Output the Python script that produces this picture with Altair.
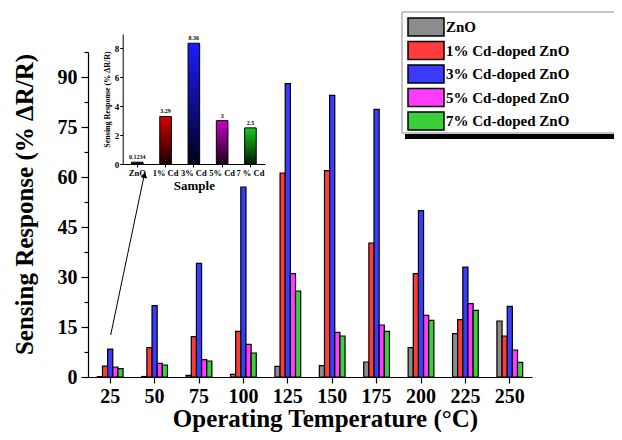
import altair as alt
import pandas as pd

temps = ["25", "50", "75", "100", "125", "150", "175", "200", "225", "250"]
series = ["ZnO", "1% Cd-doped ZnO", "3% Cd-doped ZnO", "5% Cd-doped ZnO", "7% Cd-doped ZnO"]
zno = [0.12, 0.15, 0.5, 0.8, 3.2, 3.4, 4.5, 8.8, 13.0, 16.8]
cd1 = [3.29, 8.8, 12.1, 13.7, 61.2, 61.9, 40.2, 31.0, 17.2, 12.3]
cd3 = [8.36, 21.4, 34.1, 57.0, 88.0, 84.5, 80.3, 49.9, 33.0, 21.2]
cd5 = [3.0, 4.1, 5.2, 9.8, 31.0, 13.4, 15.6, 18.5, 22.0, 8.1]
cd7 = [2.5, 3.6, 4.8, 7.2, 25.8, 12.3, 13.7, 17.0, 20.0, 4.4]
colors = ["#8c8c8c", "#ff3b3b", "#3b3bff", "#ff3bff", "#3bcf3b"]

inset_samples = ["ZnO", "1% Cd", "3% Cd", "5% Cd", "7 % Cd"]
inset_values = [0.1234, 3.29, 8.36, 3, 2.5]
inset_labels = ["0.1234", "3.29", "8.36", "3", "2.5"]
inset_top = ["#222222", "#d40000", "#1c1cff", "#c800c8", "#1ec81e"]
inset_bottom = ["#000000", "#1a0000", "#00001a", "#1a001a", "#001a00"]

FONT = "Liberation Serif"

rows = []
for s, vals in zip(series, [zno, cd1, cd3, cd5, cd7]):
    for t, v in zip(temps, vals):
        rows.append({"temp": t, "series": s, "value": v})
df = pd.DataFrame(rows)

main = alt.Chart(df).mark_bar(stroke="black", strokeWidth=1.2).encode(
    x=alt.X("temp:N", sort=temps,
            scale=alt.Scale(paddingInner=0.42, paddingOuter=0.21),
            axis=alt.Axis(orient="bottom", labelAngle=0, labelFontSize=20, labelFont=FONT,
                          labelFontWeight="bold", labelColor="black", tickSize=6, labelPadding=3,
                          domainColor="black", tickColor="black", domainWidth=1.2, tickWidth=1.2,
                          title="Operating Temperature (°C)", titleFont=FONT, titleFontSize=25,
                          titleFontWeight="bold", titleColor="black", titleX=237, titleY=49,
                          titleBaseline="alphabetic", grid=False)),
    xOffset=alt.XOffset("series:N", sort=series, scale=alt.Scale(paddingInner=0, paddingOuter=0)),
    y=alt.Y("value:Q", scale=alt.Scale(domain=[0, 97.5], nice=False),
            axis=alt.Axis(orient="left", values=[0, 7.5, 15, 22.5, 30, 37.5, 45, 52.5, 60, 67.5, 75, 82.5, 90, 97.5],
                          labelExpr="datum.value % 15 === 0 ? datum.label : ''",
                          tickSize={"condition": {"test": "datum.value % 15 === 0", "value": 7}, "value": 4},
                          labelFontSize=20, labelFont=FONT, labelFontWeight="bold", labelColor="black",
                          labelPadding=4, domainColor="black", tickColor="black", domainWidth=1.2, tickWidth=1.2,
                          title="Sensing Response (% ΔR/R)", titleFont=FONT, titleFontSize=25,
                          titleFontWeight="bold", titleColor="black", titleX=-64, titleY=152,
                          titleBaseline="middle", titleAngle=270, grid=False)),
    color=alt.Color("series:N", sort=series, scale=alt.Scale(domain=series, range=colors),
                    legend=alt.Legend(orient="none", legendX=314, legendY=-40, title=None,
                                      symbolType="M-2,-1L2,-1L2,1L-2,1Z", symbolSize=324,
                                      symbolStrokeColor="black", symbolStrokeWidth=1.5, symbolOffset=9,
                                      labelOffset=10, rowPadding=-0.5, padding=5,
                                      labelFont=FONT, labelFontSize=15, labelFontWeight="bold",
                                      labelColor="black", symbolOpacity=1, labelLimit=300)),
)

one = alt.Data(values=[{"k": 1}])
box = alt.Chart(one).mark_rect(fill="white", stroke="#888888", strokeWidth=1).encode(
    x=alt.value(314), x2=alt.value(545), y=alt.value(-40), y2=alt.value(81))
shadow = alt.Chart(one).mark_rect(fill="black").encode(
    x=alt.value(317), x2=alt.value(548), y=alt.value(82), y2=alt.value(87))

idf = pd.DataFrame({"sample": inset_samples, "val": inset_values, "lab": inset_labels})

ix = alt.X("sample:N", sort=inset_samples,
           scale=alt.Scale(range=[34.7, 177], paddingInner=0.59, paddingOuter=0.31),
           axis=alt.Axis(orient="bottom", offset=-213, labelAngle=0, labelFontSize=8.5, labelFont=FONT,
                         labelFontWeight="bold", labelColor="black", tickSize=3, labelPadding=1,
                         domainColor="black", tickColor="black",
                         title="Sample", titleFont=FONT, titleFontSize=13, titleFontWeight="bold",
                         titleColor="black", titlePadding=3, grid=False))
iy = alt.Y("val:Q", scale=alt.Scale(domain=[0, 9], range=[112, -18], nice=False),
           axis=alt.Axis(orient="left", offset=-34.7, values=[0, 2, 4, 6, 8], labelFontSize=9,
                         labelFont=FONT, labelFontWeight="bold", labelColor="black", tickSize=3,
                         labelPadding=1, domainColor="black", tickColor="black",
                         title="Sensing Response (% ΔR/R)", titleFont=FONT, titleFontSize=8,
                         titleFontWeight="bold", titleColor="black", titlePadding=3, grid=False))

ibars = []
for s, ct, cb in zip(inset_samples, inset_top, inset_bottom):
    grad = alt.Gradient(gradient="linear",
                        stops=[alt.GradientStop(color=ct, offset=0), alt.GradientStop(color=cb, offset=1)],
                        x1=0, x2=0, y1=0, y2=1)
    ibars.append(alt.Chart(idf).mark_bar(color=grad, stroke="black", strokeWidth=1)
                 .transform_filter(alt.datum.sample == s).encode(x=ix, y=iy))
itext = alt.Chart(idf).mark_text(baseline="bottom", dy=-2, fontSize=6, font=FONT, fontWeight="bold",
                                 color="black").encode(x=ix, y=iy, text="lab:N")
inset = alt.layer(*ibars, itext)

arrow_line = alt.Chart(one).mark_rule(color="black", strokeWidth=1).encode(
    x=alt.value(22.7), y=alt.value(283), x2=alt.value(56), y2=alt.value(124))
arrow_head = alt.Chart(one).mark_point(shape="triangle-up", filled=True, color="black", size=45,
                                        angle=12, opacity=1).encode(
    x=alt.value(56.5), y=alt.value(123))

chart = alt.layer(box, shadow, main, inset, arrow_line, arrow_head).resolve_scale(
    x="independent", y="independent"
).properties(
    width=444, height=325,
    autosize=alt.AutoSizeParams(type="none"),
    padding={"left": 80, "top": 44, "right": 82, "bottom": 55},
).configure_view(stroke=None)

chart.save("out.html", embed_options={"renderer": "svg", "actions": False})
